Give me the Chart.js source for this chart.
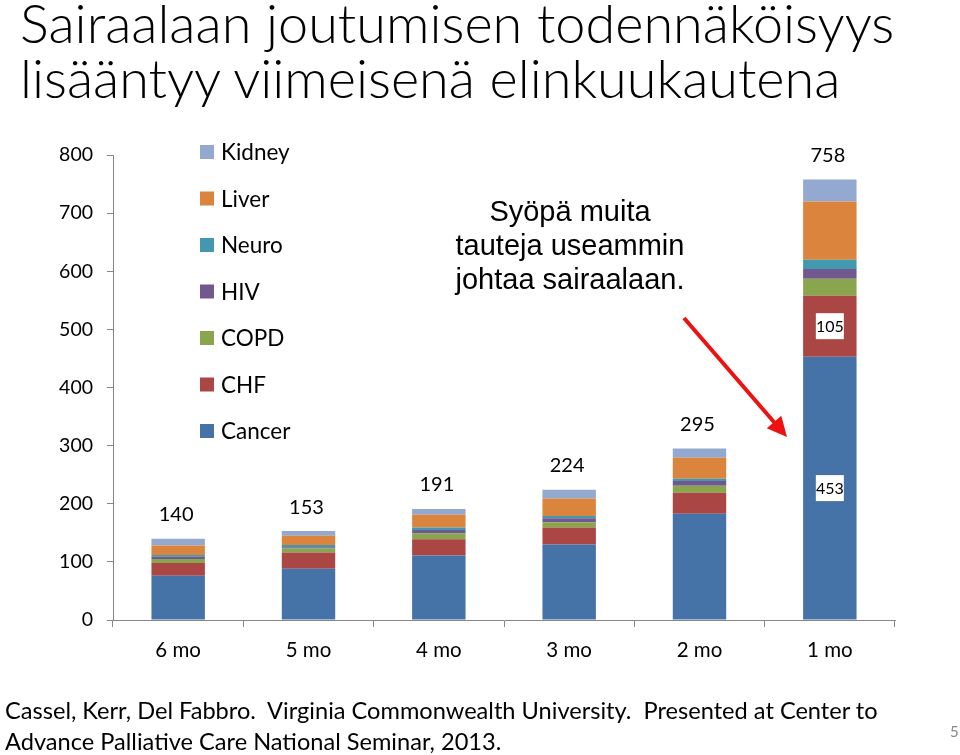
<!DOCTYPE html>
<html>
<head>
<meta charset="utf-8">
<script src="https://cdn.jsdelivr.net/npm/chart.js@4"></script>
<style>
  html, body { margin: 0; padding: 0; background: #fff; }
  #wrap { position: relative; width: 960px; height: 755px; overflow: hidden; font-family: Lato, "Open Sans", sans-serif; }
  #chart { position: absolute; left: 0; top: 0; }
  .t { position: absolute; white-space: nowrap; color: #000; }
  .title { left: 20px; font-size: 54px; font-weight: 300; line-height: 55px; }
  .note { left: 420px; width: 300px; text-align: center; font-family: "Liberation Sans", Arial, sans-serif; font-size: 29px; line-height: 34px; }
  .foot { left: 5px; font-size: 23.6px; line-height: 31px; }
  .page { left: 950px; top: 722px; font-size: 15px; color: #888; }
</style>
</head>
<body>
<div id="wrap">
  <canvas id="chart" width="960" height="755"></canvas>
  <div class="t title" style="top:-5px">Sairaalaan joutumisen todennäköisyys<br>lisääntyy viimeisenä elinkuukautena</div>
  <div class="t note" style="top:194px">Syöpä muita<br>tauteja useammin<br>johtaa sairaalaan.</div>
  <div class="t foot" style="top:695px">Cassel, Kerr, Del Fabbro.&nbsp; Virginia Commonwealth University.&nbsp; Presented at Center to<br>Advance Palliative Care National Seminar, 2013.</div>
  <div class="t page">5</div>
</div>
<script>
// months before death
const months = ['6 mo', '5 mo', '4 mo', '3 mo', '2 mo', '1 mo'];

// admissions per condition
const cancer = [76, 88, 111, 130, 183, 453];
const chf    = [22, 28, 28, 29, 36, 105];
const copd   = [7, 7, 10, 9, 12, 29];
const hiv    = [4, 2, 6, 7, 8, 17];
const neuro  = [3, 4, 4, 4, 4, 16];
const liver  = [16, 16, 22, 30, 36, 100];
const kidney = [12, 8, 10, 15, 16, 38];

const totals = [140, 153, 191, 224, 295, 758];
const yTicks = [0, 100, 200, 300, 400, 500, 600, 700, 800];

const axisColor = '#868686';

// totals over the bars + boxed labels on the last bar, legend on the left
const labelPlugin = {
  id: 'labels',
  afterDatasetsDraw(chart) {
    const ctx = chart.ctx;
    const x = chart.scales.x, y = chart.scales.y;
    ctx.save();
    ctx.font = '20px Lato, sans-serif';
    ctx.fillStyle = '#000';
    ctx.textAlign = 'center';
    ctx.textBaseline = 'middle';
    totals.forEach((t, i) => {
      ctx.fillText(String(t), x.getPixelForValue(i) - 2, y.getPixelForValue(t) - 24);
    });

    // boxed values inside the last bar (Cancer and CHF)
    const last = months.length - 1;
    const boxed = [[0, cancer[last]], [1, chf[last]]];
    ctx.font = '16px Lato, sans-serif';
    boxed.forEach(([di, v]) => {
      const bar = chart.getDatasetMeta(di).data[last];
      const cy = (bar.y + bar.base) / 2;
      const cx = bar.x;
      ctx.fillStyle = '#fff';
      ctx.fillRect(cx - 14, cy - 13, 28, 26);
      ctx.fillStyle = '#000';
      ctx.fillText(String(v), cx, cy + 1);
    });

    // legend, reversed order (Kidney on top)
    const ds = chart.data.datasets;
    ctx.font = '22.5px Lato, sans-serif';
    ctx.textAlign = 'left';
    for (let k = 0; k < ds.length; k++) {
      const d = ds[ds.length - 1 - k];
      const cy = 152 + k * 46.5;
      ctx.fillStyle = d.backgroundColor;
      ctx.fillRect(200, cy - 7, 14, 14);
      ctx.fillStyle = '#000';
      ctx.fillText(d.label, 221, cy + 1);
    }

    // red arrow
    ctx.strokeStyle = '#ee1111';
    ctx.fillStyle = '#ee1111';
    ctx.lineWidth = 4;
    const x1 = 684, y1 = 318, x2 = 787, y2 = 437;
    const ang = Math.atan2(y2 - y1, x2 - x1);
    ctx.beginPath();
    ctx.moveTo(x1, y1);
    ctx.lineTo(x2 - 8 * Math.cos(ang), y2 - 8 * Math.sin(ang));
    ctx.stroke();
    ctx.beginPath();
    ctx.moveTo(x2, y2);
    ctx.lineTo(x2 - 22 * Math.cos(ang - 0.45), y2 - 22 * Math.sin(ang - 0.45));
    ctx.lineTo(x2 - 22 * Math.cos(ang + 0.45), y2 - 22 * Math.sin(ang + 0.45));
    ctx.closePath();
    ctx.fill();
    ctx.restore();
  }
};

new Chart(document.getElementById('chart'), {
  type: 'bar',
  data: {
    labels: months,
    datasets: [
      { label: 'Cancer', data: cancer, backgroundColor: '#4572A7' },
      { label: 'CHF',    data: chf,    backgroundColor: '#AA4643' },
      { label: 'COPD',   data: copd,   backgroundColor: '#89A54E' },
      { label: 'HIV',    data: hiv,    backgroundColor: '#71588F' },
      { label: 'Neuro',  data: neuro,  backgroundColor: '#4198AF' },
      { label: 'Liver',  data: liver,  backgroundColor: '#DB843D' },
      { label: 'Kidney', data: kidney, backgroundColor: '#93A9CF' }
    ]
  },
  options: {
    responsive: false,
    animation: false,
    layout: { padding: { top: 155, right: 65, bottom: 85, left: 0 } },
    datasets: { bar: { barPercentage: 0.41, categoryPercentage: 1 } },
    plugins: { legend: { display: false }, tooltip: { enabled: false } },
    scales: {
      x: {
        stacked: true,
        afterFit: s => { s.height = 50; },
        grid: { offset: true, drawOnChartArea: false, tickLength: 7, color: axisColor },
        border: { color: axisColor },
        ticks: { color: '#000', font: { family: 'Lato', size: 20.5 }, padding: 11 }
      },
      y: {
        stacked: true,
        min: 0,
        max: 800,
        afterFit: s => { s.width = 113; },
        afterBuildTicks: s => { s.ticks = yTicks.map(v => ({ value: v })); },
        grid: { drawOnChartArea: false, tickLength: 6, color: axisColor },
        border: { color: axisColor },
        ticks: { color: '#000', font: { family: 'Lato', size: 19.5 }, padding: 14 }
      }
    }
  },
  plugins: [labelPlugin]
});
</script>
</body>
</html>
